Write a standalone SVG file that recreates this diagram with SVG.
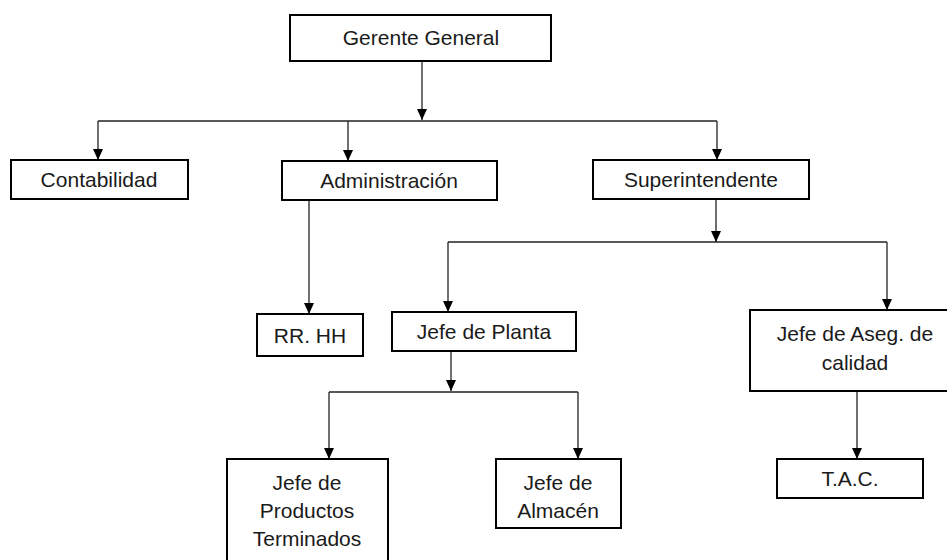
<svg xmlns="http://www.w3.org/2000/svg" width="947" height="560" viewBox="0 0 947 560">
<style>
.box{fill:#fff;stroke:#000;stroke-width:2}
.t{font-family:"Liberation Sans",Arial,sans-serif;font-size:21px;fill:#1a1a1a;text-anchor:middle}
.c{fill:none;stroke:#222;stroke-width:1.3}
</style>
<defs>
<marker id="ah" markerUnits="userSpaceOnUse" markerWidth="12" markerHeight="12" viewBox="0 0 12 12" refX="11" refY="6" orient="auto">
<path d="M0,1 L11,6 L0,11 Z" fill="#000"/>
</marker>
</defs>
<rect width="947" height="560" fill="#fff"/>
<g id="connectors">
<line class="c" x1="422" y1="61" x2="422" y2="120" marker-end="url(#ah)"/>
<polyline class="c" points="98,121 717,121"/>
<line class="c" x1="98" y1="121" x2="98" y2="160" marker-end="url(#ah)"/>
<line class="c" x1="348" y1="121" x2="348" y2="161" marker-end="url(#ah)"/>
<line class="c" x1="717" y1="121" x2="717" y2="160" marker-end="url(#ah)"/>
<line class="c" x1="309" y1="200" x2="309" y2="314" marker-end="url(#ah)"/>
<line class="c" x1="716" y1="199" x2="716" y2="242" marker-end="url(#ah)"/>
<polyline class="c" points="448,242 887,242"/>
<line class="c" x1="448" y1="242" x2="448" y2="312" marker-end="url(#ah)"/>
<line class="c" x1="887" y1="242" x2="887" y2="310" marker-end="url(#ah)"/>
<line class="c" x1="451" y1="351" x2="451" y2="391" marker-end="url(#ah)"/>
<polyline class="c" points="329,392 578,392"/>
<line class="c" x1="329" y1="392" x2="329" y2="459" marker-end="url(#ah)"/>
<line class="c" x1="578" y1="392" x2="578" y2="459" marker-end="url(#ah)"/>
<line class="c" x1="857" y1="391" x2="857" y2="459" marker-end="url(#ah)"/>
</g>
<g id="gerente"><rect class="box" x="290" y="15" width="261" height="46"/><text class="t" x="421" y="45">Gerente General</text></g>
<g id="contabilidad"><rect class="box" x="11" y="160" width="177" height="39"/><text class="t" x="99" y="187">Contabilidad</text></g>
<g id="administracion"><rect class="box" x="282" y="161" width="215" height="39"/><text class="t" x="389" y="188">Administración</text></g>
<g id="superintendente"><rect class="box" x="593" y="160" width="216" height="39"/><text class="t" x="701" y="187">Superintendente</text></g>
<g id="rrhh"><rect class="box" x="257" y="314" width="106" height="42"/><text class="t" x="310" y="343">RR. HH</text></g>
<g id="planta"><rect class="box" x="392" y="312" width="184" height="39"/><text class="t" x="484" y="339">Jefe de Planta</text></g>
<g id="aseg"><rect class="box" x="750" y="310" width="210" height="81"/><text class="t" x="855" y="341">Jefe de Aseg. de</text><text class="t" x="855" y="370">calidad</text></g>
<g id="productos"><rect class="box" x="227" y="459" width="161" height="110"/><text class="t" x="307" y="490">Jefe de</text><text class="t" x="307" y="518">Productos</text><text class="t" x="307" y="546">Terminados</text></g>
<g id="almacen"><rect class="box" x="496" y="459" width="125" height="69"/><text class="t" x="558" y="490">Jefe de</text><text class="t" x="558" y="518">Almacén</text></g>
<g id="tac"><rect class="box" x="777" y="459" width="146" height="39"/><text class="t" x="850" y="486">T.A.C.</text></g>
</svg>
